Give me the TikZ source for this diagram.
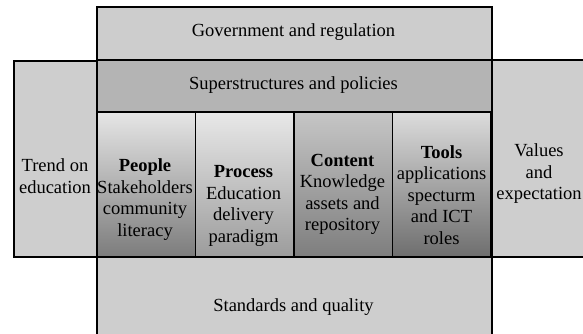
\documentclass[tikz,border=0pt]{standalone}
\usepackage{fontspec}
\setmainfont{Liberation Serif}
\newfontfamily\timesfont{Liberation Serif}
\definecolor{govgray}{HTML}{CDCDCD}
\definecolor{supgray}{HTML}{B4B4B4}
\definecolor{sidegray}{HTML}{CECECE}
\definecolor{peopletop}{HTML}{E6E6E6}
\definecolor{peoplebot}{HTML}{7C7C7C}
\definecolor{processtop}{HTML}{E8E8E8}
\definecolor{processbot}{HTML}{9C9C9C}
\definecolor{contenttop}{HTML}{C6C6C6}
\definecolor{contentbot}{HTML}{7E7E7E}
\definecolor{toolstop}{HTML}{DCDCDC}
\definecolor{toolsbot}{HTML}{6E6E6E}
\begin{document}
\begin{tikzpicture}[x=1pt, y=-1pt,
  box/.style={draw, line width=1.5pt, inner sep=0pt, anchor=north west},
  col/.style={box, line width=1.8pt, minimum width=98.5pt, minimum height=145pt},
  lbl/.style={align=center, inner sep=0pt, font=\timesfont\fontsize{18.5}{21.5}\selectfont}]

  \useasboundingbox (0,0) rectangle (583,333);
  \clip (0,0) rectangle (583,333);

  % side boxes
  \node[box, fill=sidegray, minimum width=83pt, minimum height=196pt] (trendbox) at (13,60) {};
  \node[box, fill=sidegray, minimum width=110pt, minimum height=197pt] (valuesbox) at (491,59) {};

  % top and bottom bands
  \node[box, fill=govgray, minimum width=395pt, minimum height=53pt] (govbox) at (96,6) {};
  \node[box, fill=supgray, minimum width=395pt, minimum height=52pt] (supbox) at (96,59) {};
  \node[box, fill=sidegray, minimum width=395pt, minimum height=104pt] (stdbox) at (96,256) {};

  % the four columns
  \node[col, top color=peopletop, bottom color=peoplebot] (peoplebox) at (96,111) {};
  \node[col, top color=processtop, bottom color=processbot] (processbox) at (194.5,111) {};
  \node[col, top color=contenttop, bottom color=contentbot] (contentbox) at (293,111) {};
  \node[col, top color=toolstop, bottom color=toolsbot] (toolsbox) at (391.5,111) {};

  % texts
  \node[lbl] (gov) at (293.5,32.5) {Government and regulation};
  \node[lbl] (sup) at (293.5,85) {Superstructures and policies};
  \node[lbl] (std) at (293.5,307) {Standards and quality};
  \node[lbl] (trend) at (55,176) {Trend on\\education};
  \node[lbl] (values) at (539,174) {Values\\and\\expectation};

  \node[lbl] (people) at (145,199.5) {\textbf{People}\\Stakeholders\\community\\literacy};
  \node[lbl] (process) at (243.5,206) {\textbf{Process}\\Education\\delivery\\paradigm};
  \node[lbl] (content) at (342.5,194.5) {\textbf{Content}\\Knowledge\\assets and\\repository};
  \node[lbl] (tools) at (441.5,195) {\textbf{Tools}\\applications\\specturm\\and ICT\\roles};
\end{tikzpicture}
\end{document}
